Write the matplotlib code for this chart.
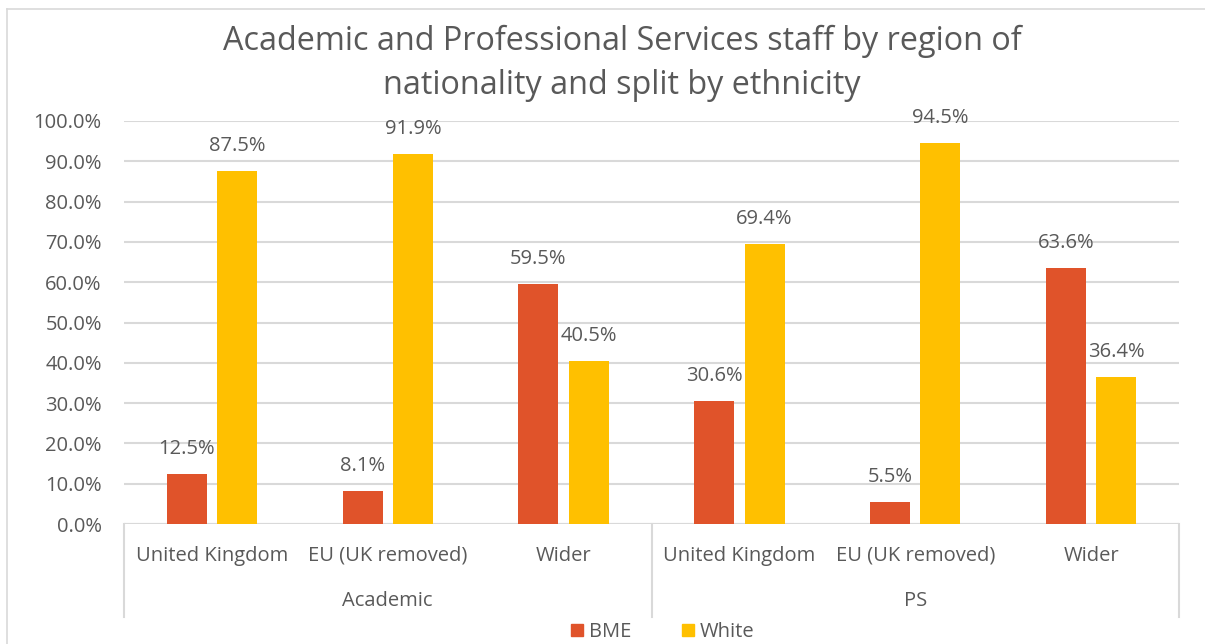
import matplotlib.pyplot as plt
from matplotlib.patches import Patch

plt.rcParams['font.family'] = ['Open Sans', 'DejaVu Sans']

# data
groups = ["Academic", "PS"]
regions = ["United Kingdom", "EU (UK removed)", "Wider"]
bme = [12.5, 8.1, 59.5, 30.6, 5.5, 63.6]
white = [87.5, 91.9, 40.5, 69.4, 94.5, 36.4]
yticks = [0, 10, 20, 30, 40, 50, 60, 70, 80, 90, 100]

BME_COL = "#E0532A"
WHITE_COL = "#FFC000"
TXT = "#595959"
GRID = "#D9D9D9"
FS = 14.5

W, H = 1205, 644
fig = plt.figure(figsize=(W / 100, H / 100), dpi=100)

def fx(px):
    return px / W

def fy(py):
    return 1 - py / H

# chart border (top and left only visible)
fig.add_artist(plt.Line2D([fx(7), 1], [fy(8.5), fy(8.5)], color=GRID, lw=1.2))
fig.add_artist(plt.Line2D([fx(7.5), fx(7.5)], [fy(8.5), 0], color=GRID, lw=1.2))

left, right, top, bottom = 124, 1179, 121, 524
ax = fig.add_axes([fx(left), fy(bottom), fx(right - left), fy(top) - fy(bottom)])

n = len(bme)
xs = list(range(n))
bw = 0.2275
off = 0.143
ax.bar([x - off for x in xs], bme, bw, color=BME_COL, zorder=3)
ax.bar([x + off for x in xs], white, bw, color=WHITE_COL, zorder=3)

for x, v in zip(xs, bme):
    ax.text(x - off, v + 6.2, f"{v:.1f}%", ha="center", va="center",
            fontsize=FS, color=TXT, clip_on=False)
for x, v in zip(xs, white):
    ax.text(x + off, v + 6.2, f"{v:.1f}%", ha="center", va="center",
            fontsize=FS, color=TXT, clip_on=False)

ax.set_xlim(-0.5, n - 0.5)
ax.set_ylim(0, 100)
ax.set_yticks(yticks)
ax.set_yticklabels([f"{t:.1f}%" for t in yticks], fontsize=FS, color=TXT)
ax.tick_params(axis="y", length=0, pad=16)
ax.set_xticks([])
ax.grid(axis="y", color=GRID, lw=1.5, zorder=0)
for s in ax.spines.values():
    s.set_visible(False)
ax.axhline(0, color=GRID, lw=1.5, zorder=2)

# two-level category axis
for i in range(n):
    fig.text(fx(left + (i + 0.5) * (right - left) / n), fy(556), regions[i % 3],
             ha="center", va="center", fontsize=FS, color=TXT)
for g, name in enumerate(groups):
    cx = left + (g * 3 + 1.5) * (right - left) / n
    fig.text(fx(cx), fy(601), name, ha="center", va="center", fontsize=FS, color=TXT)
for k in [0, 3, 6]:
    xp = left + k * (right - left) / n
    fig.add_artist(plt.Line2D([fx(xp), fx(xp)], [fy(bottom), fy(617)], color=GRID, lw=1.5))

# title
fig.text(fx(622), fy(41), "Academic and Professional Services staff by region of",
         ha="center", va="center", fontsize=23.3, color=TXT)
fig.text(fx(622), fy(85), "nationality and split by ethnicity",
         ha="center", va="center", fontsize=23.3, color=TXT)

# legend
handles = [Patch(color=BME_COL, label="BME"), Patch(color=WHITE_COL, label="White")]
fig.legend(handles=handles, loc="center", bbox_to_anchor=(fx(663), fy(632)), ncol=2,
           frameon=False, fontsize=FS, labelcolor=TXT, handlelength=0.6,
           handleheight=0.6, handletextpad=0.3, columnspacing=2.5)

fig.savefig("out.png", dpi=100)
